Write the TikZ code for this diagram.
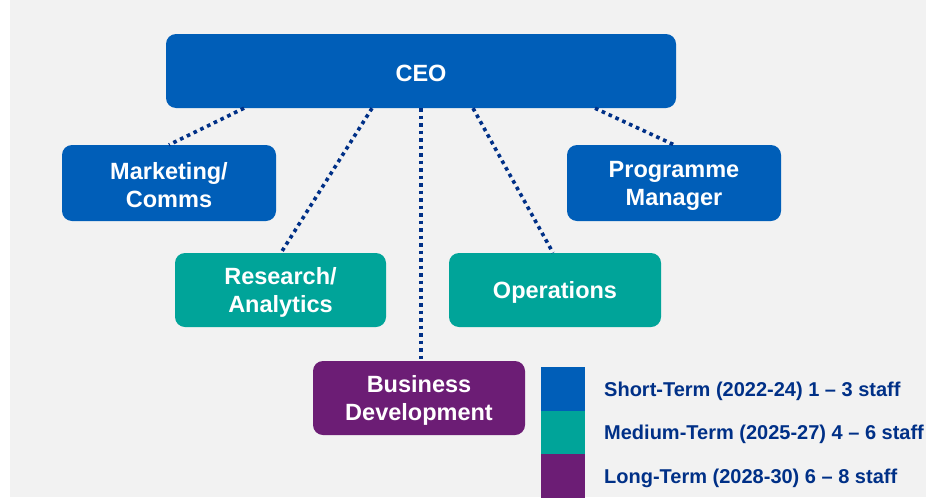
\documentclass[tikz,border=0pt]{standalone}
\usepackage{fontspec}
\setmainfont{Liberation Sans}
\definecolor{nblue}{HTML}{005EB8}
\definecolor{nteal}{HTML}{00A499}
\definecolor{npurple}{HTML}{6C1D75}
\definecolor{ndark}{HTML}{003087}
\definecolor{bggray}{HTML}{F2F2F2}
\newcommand{\lw}[1]{\raisebox{-2.5pt}[\height][\depth]{#1}}
\begin{document}
\begin{tikzpicture}[x=1pt,y=-1pt,
  box/.style={rounded corners=10pt, text=white, align=center, inner sep=0pt,
    font=\fontsize{23.5}{28}\selectfont\bfseries},
  link/.style={draw=ndark, line width=3.6pt, dash pattern=on 3.6pt off 3.9pt},
  legtxt/.style={anchor=west, inner sep=0pt, text=ndark,
    font=\fontsize{20}{24}\selectfont\bfseries}]
\useasboundingbox (0,0) rectangle (926,498);
\fill[white] (0,0) rectangle (926,498);
\fill[bggray] (10,0) rectangle (926,497);
% nodes
\node[box, fill=nblue, minimum width=510pt, minimum height=74pt] (ceo) at (421,71) {\lw{CEO}};
\node[box, fill=nblue, minimum width=214pt, minimum height=76pt] (mkt) at (169,183) {\lw{Marketing/}\\\lw{Comms}};
\node[box, fill=nblue, minimum width=214pt, minimum height=76pt] (pm) at (674,183) {\lw{Programme}\\\lw{Manager}};
\node[box, fill=nteal, minimum width=211pt, minimum height=74pt] (res) at (280.5,290) {\lw{Research/}\\\lw{Analytics}};
\node[box, fill=nteal, minimum width=212pt, minimum height=74pt] (ops) at (555,290) {\lw{Operations}};
\node[box, fill=npurple, minimum width=212pt, minimum height=74pt] (bd) at (419,398) {\lw{Business}\\\lw{Development}};
% connectors
\draw[link] ([xshift=-177pt]ceo.south) -- (mkt.north);
\draw[link] ([xshift=-49pt]ceo.south) -- ([xshift=0.5pt]res.north);
\draw[link] (ceo.south) -- (ceo.south |- bd.north);
\draw[link] ([xshift=52pt]ceo.south) -- ([xshift=-2pt]ops.north);
\draw[link] ([xshift=174pt]ceo.south) -- (pm.north);
% legend
\node[fill=nblue, minimum width=44pt, minimum height=44pt, inner sep=0pt, anchor=north west] (l1) at (541,367) {};
\node[fill=nteal, minimum width=44pt, minimum height=43pt, inner sep=0pt, anchor=north west] (l2) at (541,411) {};
\node[fill=npurple, minimum width=44pt, minimum height=44pt, inner sep=0pt, anchor=north west] (l3) at (541,454) {};
\node[legtxt] (t1) at (604,391) {Short-Term (2022-24) 1 – 3 staff};
\node[legtxt] (t2) at (604,434) {Medium-Term (2025-27) 4 – 6 staff};
\node[legtxt] (t3) at (604,478) {Long-Term (2028-30) 6 – 8 staff};
\end{tikzpicture}
\end{document}
